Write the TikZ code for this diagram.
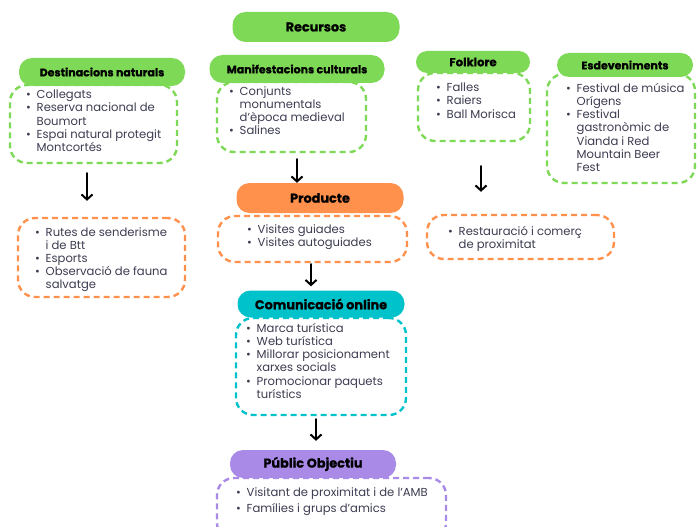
\documentclass[tikz,border=0pt]{standalone}
\usepackage{fontspec}
\setmainfont{Poppins}
\newfontfamily\heavyfont{Poppins}[BoldFeatures={FakeBold=0.8}]
\usetikzlibrary{arrows.meta}
\definecolor{pgreen}{HTML}{7ED957}
\definecolor{porange}{HTML}{FF914D}
\definecolor{pteal}{HTML}{00C2CB}
\definecolor{ppurple}{HTML}{A98AE6}
\definecolor{bodytxt}{HTML}{3D3D52}
\newcommand\itm{\makebox[10.5pt][l]{\textbullet}}
\newcommand\cnt{\hspace*{10.5pt}}
\tikzset{
  pill/.style={fill=#1, draw=none, rounded corners=13pt, inner sep=0pt,
    font=\heavyfont\fontsize{11}{12}\selectfont\bfseries, text=black},
  bigpill/.style={pill=#1, font=\heavyfont\fontsize{12.8}{14}\selectfont\bfseries},
  dbox/.style={draw=#1, dash pattern=on 6pt off 4pt, line width=2.4pt,
    rounded corners=17pt, inner sep=0pt, fill=white},
  itext/.style={anchor=north west, inner sep=0pt, align=left,
    font=\fontsize{11.6}{13.2}\selectfont, text=bodytxt},
  arr/.style={line width=2pt, line cap=round,
    -{Straight Barb[length=5pt,width=11pt,line width=2pt]}}
}
\begin{document}
\begin{tikzpicture}[x=1pt,y=-1pt]
\useasboundingbox (0,0) rectangle (697,527);
\fill[white] (0,0) rectangle (697,527);

% dashed boxes
\node[dbox=pgreen, minimum width=167pt, minimum height=78pt] (dnbox) at (93.5,124) {};
\node[dbox=pgreen, minimum width=149pt, minimum height=70pt] (mcbox) at (291.5,117) {};
\node[dbox=pgreen, minimum width=112pt, minimum height=68pt] (fkbox) at (474,107) {};
\node[dbox=pgreen, minimum width=148pt, minimum height=109pt] (esbox) at (621,128.5) {};
\node[dbox=porange, minimum width=167pt, minimum height=79pt] (olbox) at (101.5,257.5) {};
\node[dbox=porange, minimum width=189pt, minimum height=46pt] (prbox) at (312.5,239) {};
\node[dbox=porange, minimum width=187pt, minimum height=44pt] (orbox) at (520.5,237) {};
\node[dbox=pteal, minimum width=170pt, minimum height=97pt] (cobox) at (321,366.5) {};
\node[dbox=ppurple, minimum width=229pt, minimum height=62pt] (pubox) at (331.5,509) {};

% pills
\node[bigpill=pgreen, minimum width=167pt, minimum height=30pt] (recursos) at (316,27) {Recursos};
\node[pill=pgreen, minimum width=166pt, minimum height=28pt] (dnpill) at (102,72) {Destinacions naturals};
\node[pill=pgreen, minimum width=175pt, minimum height=28pt] (mcpill) at (297,69) {Manifestacions culturals};
\node[pill=pgreen, minimum width=114pt, minimum height=22pt, rounded corners=11pt, font=\heavyfont\fontsize{11.6}{12}\selectfont\bfseries] (fkpill) at (473,62) {Folklore};
\node[pill=pgreen, minimum width=136pt, minimum height=24pt, rounded corners=12pt] (espill) at (625,65) {Esdeveniments};
\node[bigpill=porange, minimum width=167pt, minimum height=30pt] (prpill) at (320,198) {Producte};
\node[bigpill=pteal, minimum width=167pt, minimum height=27pt] (copill) at (321,304) {Comunicació online};
\node[bigpill=ppurple, minimum width=166pt, minimum height=28pt] (pupill) at (313,464) {Públic Objectiu};

% item texts
\node[itext] (dntxt) at (26,90) {\itm Collegats\\ \itm Reserva nacional de\\ \cnt Boumort\\ \itm Espai natural protegit\\ \cnt Montcortés};
\node[itext] (mctxt) at (229,86) {\itm Conjunts\\ \cnt monumentals\\ \cnt d'època medieval\\ \itm Salines};
\node[itext] (fktxt) at (436,83) {\itm Falles\\ \itm Raiers\\ \itm Ball Morisca};
\node[itext] (estxt) at (566,83) {\itm Festival de música\\ \cnt Orígens\\ \itm Festival\\ \cnt gastronòmic de\\ \cnt Vianda i Red\\ \cnt Mountain Beer\\ \cnt Fest};
\node[itext] (oltxt) at (35,227) {\itm Rutes de senderisme\\ \cnt i de Btt\\ \itm Esports\\ \itm Observació de fauna\\ \cnt salvatge};
\node[itext] (prtxt) at (247,224) {\itm Visites guiades\\ \itm Visites autoguiades};
\node[itext] (ortxt) at (448,226) {\itm Restauració i comerç\\ \cnt de proximitat};
\node[itext] (cotxt) at (246,323) {\itm Marca turística\\ \itm Web turística\\ \itm Millorar posicionament\\ \cnt xarxes socials\\ \itm Promocionar paquets\\ \cnt turístics};
\node[itext, font=\fontsize{11.6}{16}\selectfont] (putxt) at (236,487) {\itm Visitant de proximitat i de l'AMB\\ \itm Famílies i grups d'amics};

% arrows
\draw[arr, shorten <=9pt, shorten >=16pt] ([xshift=-6.5pt]dnbox.south) -- ([xshift=-6.5pt]dnbox.south |- olbox.north);
\draw[arr, shorten <=6pt] ([xshift=5.5pt]mcbox.south) -- ([xshift=5.5pt]mcbox.south |- prpill.north);
\draw[arr, shorten <=24pt, shorten >=22pt] ([xshift=7pt]fkbox.south) -- ([xshift=7pt]fkbox.south |- orbox.north);
\draw[arr, shorten <=1pt, shorten >=4pt] ([xshift=-1.5pt]prbox.south) -- ([xshift=-1.5pt]prbox.south |- copill.north);
\draw[arr, shorten <=3pt, shorten >=9pt] ([xshift=-5pt]cobox.south) -- ([xshift=-5pt]cobox.south |- pupill.north);
\end{tikzpicture}
\end{document}
